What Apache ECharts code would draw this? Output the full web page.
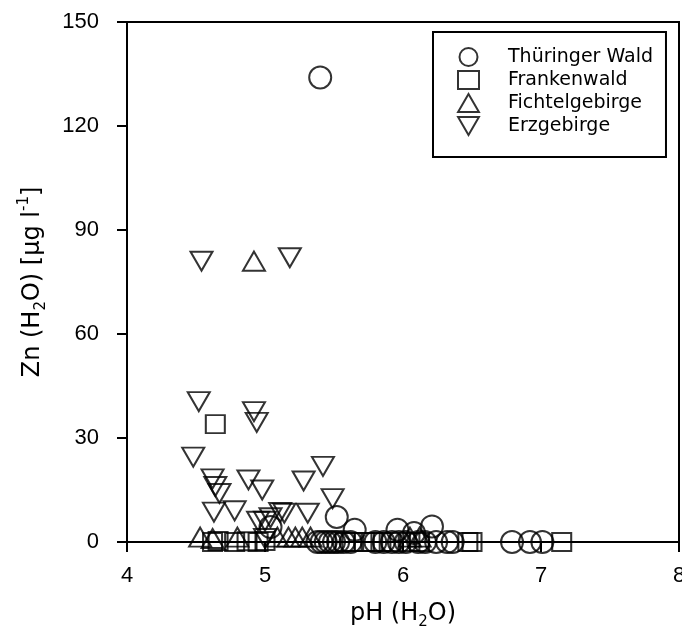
<!DOCTYPE html>
<html>
<head>
<meta charset="utf-8">
<script src="https://cdn.jsdelivr.net/npm/echarts@6/dist/echarts.min.js"></script>
<style>
html,body{margin:0;padding:0;background:#fff;}
#chart{width:682px;height:628px;}
</style>
</head>
<body>
<div id="chart"></div>
<script>
// ---- data ----
var seriesNames = ['Thüringer Wald', 'Frankenwald', 'Fichtelgebirge', 'Erzgebirge'];

var thuringerPH = [5.40, 5.04, 5.52, 5.65, 5.96, 6.08, 6.21, 5.38, 5.41, 5.44, 5.47, 5.50, 5.53, 5.57, 5.62, 5.80, 5.86, 5.92, 5.97, 6.02, 6.11, 6.16, 6.24, 6.32, 6.36, 6.79, 6.92, 7.01];
var thuringerZn = [134, 4.3, 7.2, 3.5, 3.5, 2.6, 4.5, 0, 0, 0, 0, 0, 0, 0, 0, 0, 0, 0, 0, 0, 0, 0, 0, 0, 0, 0, 0, 0];

var frankenPH = [4.64, 4.62, 4.66, 4.78, 4.87, 4.95, 5.00, 5.58, 5.63, 5.72, 5.78, 5.84, 5.90, 6.05, 6.12, 6.47, 6.50, 7.15];
var frankenZn = [34, 0, 0.3, 0, 0.2, 0, 0.3, 0, 0, 0, 0, 0, 0, 0, 0, 0, 0, 0];

var fichtelPH = [4.92, 4.53, 4.62, 4.80, 5.09, 5.17, 5.22, 5.27, 5.33, 6.05, 6.12];
var fichtelZn = [81, 1.4, 1, 1.4, 1.4, 1.4, 1.4, 1.4, 1.4, 1.4, 1.4];

var erzPH = [4.54, 5.18, 4.52, 4.92, 4.94, 4.48, 4.62, 4.64, 4.67, 4.63, 4.78, 4.88, 4.98, 5.11, 4.95, 5.00, 5.28, 5.42, 5.31, 5.49, 5.14, 5.04, 5.00];
var erzZn = [81, 82, 40.5, 37.6, 34.5, 24.5, 18.2, 16, 14, 8.6, 9, 17.9, 15, 8.5, 6, 6, 17.6, 21.8, 8.3, 12.5, 8.3, 7, 1];

var xTicks = [4, 5, 6, 7, 8];
var yTicks = [0, 30, 60, 90, 120, 150];

function pairs(xs, ys) {
  return xs.map(function (x, i) { return [x, ys[i]]; });
}

var TICKFONT = 'Liberation Sans';
var FONT = 'DejaVu Sans';
var baseItem = { color: 'rgba(0,0,0,0)', borderColor: '#000', borderWidth: 2 };
var UP_TRI = 'path://M11,0L22,19L0,19Z';
var DOWN_TRI = 'path://M0,0L22,0L11,19Z';

var chart = echarts.init(document.getElementById('chart'));
chart.setOption({
  animation: false,
  backgroundColor: '#fff',
  textStyle: { fontFamily: FONT, color: '#000' },
  grid: { left: 127, right: 3, top: 22, bottom: 86, outerBoundsMode: 'none', containLabel: false, show: true, borderColor: '#000', borderWidth: 2, backgroundColor: 'transparent' },
  legend: {
    orient: 'vertical',
    left: 433, top: 32,
    padding: [15, 13, 21, 24],
    itemGap: 3,
    itemWidth: 21, itemHeight: 18,
    borderColor: '#000', borderWidth: 2,
    backgroundColor: '#fff',
    textStyle: { fontFamily: FONT, fontSize: 19, lineHeight: 20, color: '#000', padding: [0, 0, 0, 24] },
    data: [
      { name: seriesNames[0], icon: 'circle' },
      { name: seriesNames[1], icon: 'rect' },
      { name: seriesNames[2], icon: UP_TRI },
      { name: seriesNames[3], icon: DOWN_TRI }
    ]
  },
  xAxis: {
    type: 'value', min: xTicks[0], max: xTicks[xTicks.length - 1], interval: 1,
    splitLine: { show: false },
    axisLine: { lineStyle: { color: '#000', width: 2 } },
    axisTick: { length: 10, lineStyle: { color: '#000', width: 2 } },
    axisLabel: { fontFamily: TICKFONT, fontSize: 22, color: '#000', margin: 23 },
    name: 'pH (H{sub|2}O)',
    nameLocation: 'middle', nameGap: 56,
    nameTextStyle: {
      fontFamily: FONT, fontSize: 24, color: '#000', lineHeight: 32,
      rich: { sub: { fontFamily: FONT, fontSize: 15, lineHeight: 16, verticalAlign: 'bottom', color: '#000' } }
    }
  },
  yAxis: {
    type: 'value', min: yTicks[0], max: yTicks[yTicks.length - 1], interval: 30,
    splitLine: { show: false },
    axisLine: { lineStyle: { color: '#000', width: 2 } },
    axisTick: { length: 10, lineStyle: { color: '#000', width: 2 } },
    axisLabel: { fontFamily: TICKFONT, fontSize: 22, color: '#000', margin: 28 },
    name: 'Zn (H{sub|2}O) [µg l{sup|-1}]',
    nameLocation: 'middle', nameGap: 78,
    nameTextStyle: {
      fontFamily: FONT, fontSize: 24, color: '#000', lineHeight: 32,
      rich: {
        sub: { fontFamily: FONT, fontSize: 15, lineHeight: 16, verticalAlign: 'bottom', color: '#000' },
        sup: { fontFamily: FONT, fontSize: 15, lineHeight: 16, verticalAlign: 'top', color: '#000' }
      }
    }
  },
  series: [
    { name: seriesNames[0], type: 'scatter', clip: false, symbol: 'circle', symbolSize: 22, itemStyle: baseItem, data: pairs(thuringerPH, thuringerZn) },
    { name: seriesNames[1], type: 'scatter', clip: false, symbol: 'rect', symbolSize: [19, 18], itemStyle: baseItem, data: pairs(frankenPH, frankenZn) },
    { name: seriesNames[2], type: 'scatter', clip: false, symbol: 'triangle', symbolSize: [22, 19], itemStyle: baseItem, data: pairs(fichtelPH, fichtelZn) },
    { name: seriesNames[3], type: 'scatter', clip: false, symbol: 'triangle', symbolRotate: 180, symbolSize: [22, 19], itemStyle: baseItem, data: pairs(erzPH, erzZn) }
  ]
});
</script>
</body>
</html>
